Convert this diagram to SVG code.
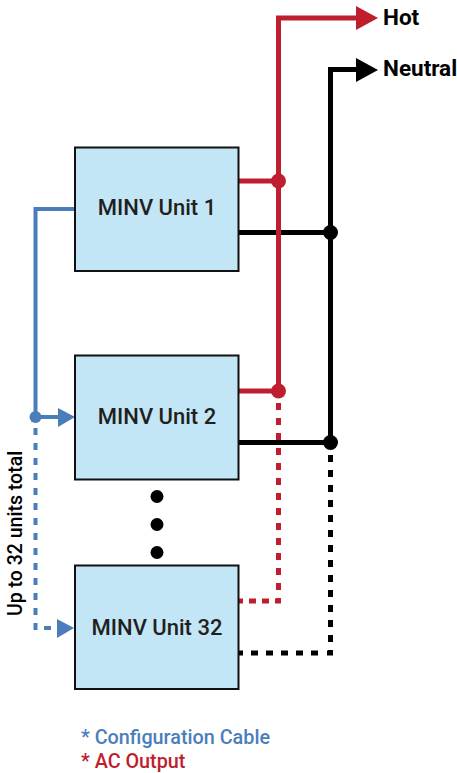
<svg xmlns="http://www.w3.org/2000/svg" width="457" height="773" viewBox="0 0 457 773">
<style>
.box{fill:#c2e6f5;stroke:#111;stroke-width:2}
.lbl{font-family:"Roboto","Liberation Sans",sans-serif;font-weight:500;font-size:22px;fill:#231f20;text-anchor:middle}
.out{font-family:"Roboto","Liberation Sans",sans-serif;font-weight:700;font-size:22.500px;fill:#000}
.leg{font-family:"Roboto","Liberation Sans",sans-serif;font-weight:500;font-size:19.800px}
.l{fill:none;stroke-width:5}
.t{stroke-width:4}
.d{stroke-dasharray:7 8}
.r{stroke:#be1e2d}.k{stroke:#000}.b{stroke:#4a7ebb}
.fr{fill:#be1e2d}.fk{fill:#000}.fb{fill:#4a7ebb}
</style>
<g id="connectors">
<path class="l t b" d="M75 209H35.500V417H60"/>
<path class="l t b d" d="M35.500 428V628H39"/>
<path class="l t b d" d="M44 628H60"/>
<path class="l r" d="M238 181H279"/>
<path class="l r" d="M238 391H279"/>
<path class="l k" d="M238 232.500H330"/>
<path class="l k" d="M238 442.500H330"/>
<path class="l r" d="M278.500 391V18H360"/>
<path class="l k" d="M330.500 442V69.500H360"/>
<path class="l r d" d="M278.500 403V601H275"/>
<path class="l r" d="M262 601H269M249 601H256M238 601H243"/>
<path class="l k d" d="M330.500 455V653H327"/>
<path class="l k d" d="M318 653H238"/>
<polygon class="fr" points="356,6 378,18 356,30"/>
<polygon class="fk" points="356,58 378,70 356,82"/>
<polygon class="fb" points="58,408 75,417 58,427"/>
<polygon class="fb" points="57,619 74,628 57,638"/>
<circle class="fr" cx="278.500" cy="181" r="7.500"/>
<circle class="fr" cx="278.500" cy="391" r="7.500"/>
<circle class="fk" cx="330.500" cy="232.500" r="7.500"/>
<circle class="fk" cx="330.500" cy="442.500" r="7.500"/>
<circle class="fb" cx="35.500" cy="417" r="6"/>
</g>
<g id="unit1"><rect class="box" x="75" y="147.500" width="163.500" height="123.500"/><text class="lbl" x="157" y="215">MINV Unit 1</text></g>
<g id="unit2"><rect class="box" x="75" y="355.500" width="163.500" height="124"/><text class="lbl" x="157" y="424">MINV Unit 2</text></g>
<g id="unit32"><rect class="box" x="75" y="565.500" width="163.500" height="123.500"/><text class="lbl" x="157" y="635">MINV Unit 32</text></g>
<g id="ellipsis"><circle class="fk" cx="157" cy="496.500" r="6.500"/><circle class="fk" cx="157" cy="524.500" r="6.500"/><circle class="fk" cx="157" cy="552.500" r="6.500"/></g>
<g id="labels">
<text class="out" x="383" y="25">Hot</text>
<text class="out" x="383" y="76">Neutral</text>
<text transform="translate(22 616) rotate(-90)" font-family="Roboto,'Liberation Sans',sans-serif" font-weight="500" font-size="19.500" fill="#000">Up to 32 units total</text>
<text class="leg" x="81" y="744" fill="#4a7ebb">* Configuration Cable</text>
<text class="leg" x="81" y="768" fill="#be1e2d">* AC Output</text>
</g>
</svg>
